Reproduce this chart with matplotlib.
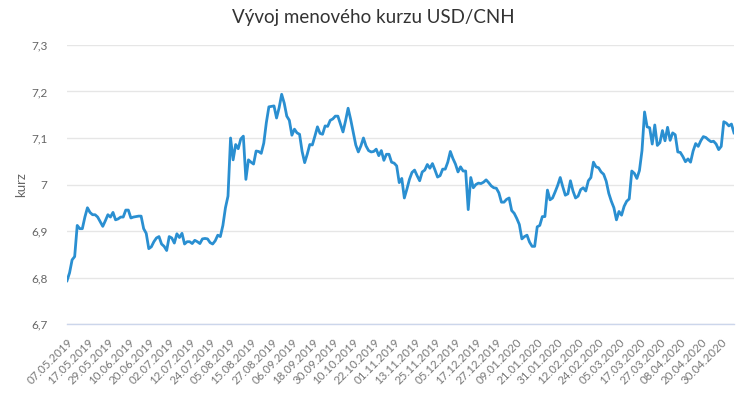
import matplotlib
matplotlib.use("Agg")
import matplotlib.pyplot as plt
import pandas as pd
from matplotlib.ticker import FuncFormatter, FixedLocator

# business days in the series (1.1.2020 missing in the source data)
START = "2019-05-07"
END = "2020-05-07"
MISSING = ["2020-01-01"]
LABEL_STEP = 8

kurz = [
    6.793, 6.81, 6.838, 6.845, 6.912, 6.905, 6.905, 6.93, 6.95, 6.94,
    6.935, 6.935, 6.93, 6.92, 6.91, 6.922, 6.935, 6.93, 6.94, 6.924,
    6.926, 6.93, 6.93, 6.945, 6.945, 6.928, 6.93, 6.931, 6.932, 6.932,
    6.905, 6.895, 6.862, 6.866, 6.877, 6.885, 6.888, 6.872, 6.867, 6.858,
    6.888, 6.885, 6.874, 6.894, 6.886, 6.895, 6.872, 6.877, 6.877, 6.873,
    6.88, 6.877, 6.873, 6.883, 6.884, 6.883, 6.875, 6.872, 6.879, 6.891,
    6.888, 6.912, 6.95, 6.975, 7.10, 7.053, 7.086, 7.077, 7.098, 7.104,
    7.011, 7.053, 7.048, 7.044, 7.072, 7.071, 7.067, 7.089, 7.133, 7.167,
    7.168, 7.169, 7.143, 7.165, 7.194, 7.175, 7.147, 7.138, 7.106, 7.119,
    7.111, 7.108, 7.071, 7.047, 7.065, 7.086, 7.085, 7.104, 7.124, 7.11,
    7.108, 7.126, 7.125, 7.138, 7.141, 7.147, 7.147, 7.13, 7.113, 7.137,
    7.164, 7.14, 7.112, 7.085, 7.07, 7.083, 7.1, 7.083, 7.073, 7.07,
    7.071, 7.076, 7.062, 7.073, 7.052, 7.065, 7.065, 7.048, 7.046, 7.04,
    7.004, 7.013, 6.971, 6.99, 7.011, 7.026, 7.031, 7.019, 7.008, 7.027,
    7.031, 7.043, 7.035, 7.045, 7.031, 7.016, 7.019, 7.033, 7.033, 7.048,
    7.071, 7.056, 7.044, 7.027, 7.038, 7.029, 7.029, 6.946, 7.015, 6.993,
    7.0, 7.003, 7.002, 7.005, 7.01, 7.004, 6.997, 6.993, 6.992, 6.982,
    6.962, 6.962, 6.968, 6.971, 6.944, 6.938, 6.927, 6.914, 6.883, 6.888,
    6.891, 6.876, 6.867, 6.867, 6.909, 6.912, 6.931, 6.931, 6.988, 6.967,
    6.971, 6.984, 6.998, 7.015, 6.995, 6.977, 6.98, 7.008, 6.986, 6.971,
    6.975, 6.989, 6.993, 6.986, 7.008, 7.015, 7.048, 7.038, 7.036, 7.027,
    7.022, 7.007, 6.981, 6.964, 6.95, 6.924, 6.942, 6.934, 6.953, 6.964,
    6.969, 7.029, 7.024, 7.013, 7.03, 7.073, 7.156, 7.124, 7.122, 7.087,
    7.128, 7.084, 7.09, 7.116, 7.094, 7.123, 7.095, 7.111, 7.107, 7.07,
    7.069, 7.06, 7.049, 7.055, 7.048, 7.072, 7.088, 7.082, 7.094, 7.103,
    7.101, 7.096, 7.092, 7.093, 7.087, 7.075, 7.082, 7.135, 7.132, 7.126,
    7.13, 7.111,
]

y_ticks = [6.7, 6.8, 6.9, 7.0, 7.1, 7.2, 7.3]

dates = pd.bdate_range(START, END).drop(pd.to_datetime(MISSING))
labels = [d.strftime("%d.%m.%Y") for d in dates]
n = len(kurz)
x = list(range(n))

plt.rcParams["font.family"] = ["Lato", "DejaVu Sans"]

fig = plt.figure(figsize=(7.44, 4.0), dpi=100)
ax = fig.add_axes([67 / 744, 1 - 324 / 400, (734 - 67) / 744, (324 - 45) / 400])

ax.plot(x, kurz, color="#2a8fd1", lw=2, solid_joinstyle="round")

ax.set_xlim(0, n - 1)
ax.set_ylim(6.7, 7.3)
ax.yaxis.set_major_locator(FixedLocator(y_ticks))
ax.yaxis.set_major_formatter(FuncFormatter(lambda v, p: f"{v:g}".replace(".", ",")))
ax.grid(axis="y", color="#e6e6e6", lw=1)
ax.set_axisbelow(True)

tick_pos = list(range(0, n, LABEL_STEP))
ax.set_xticks(tick_pos)
ax.set_xticklabels([labels[i] for i in tick_pos], rotation=45, ha="right",
                   rotation_mode="anchor", fontsize=8.3, color="#777777")
ax.tick_params(axis="x", length=0, pad=9)
ax.tick_params(axis="y", length=0, pad=14, labelsize=8.5, labelcolor="#666666")

for s in ["top", "right", "left"]:
    ax.spines[s].set_visible(False)
ax.spines["bottom"].set_color("#ccd6eb")
ax.spines["bottom"].set_linewidth(1)

ax.set_ylabel("kurz", fontsize=9.5, color="#666666", labelpad=3)
fig.text(373 / 744, 1 - 17 / 400, "Vývoj menového kurzu USD/CNH", ha="center",
         va="center", fontsize=13.5, color="#333333")

fig.savefig("out.png", dpi=100, facecolor="white")
